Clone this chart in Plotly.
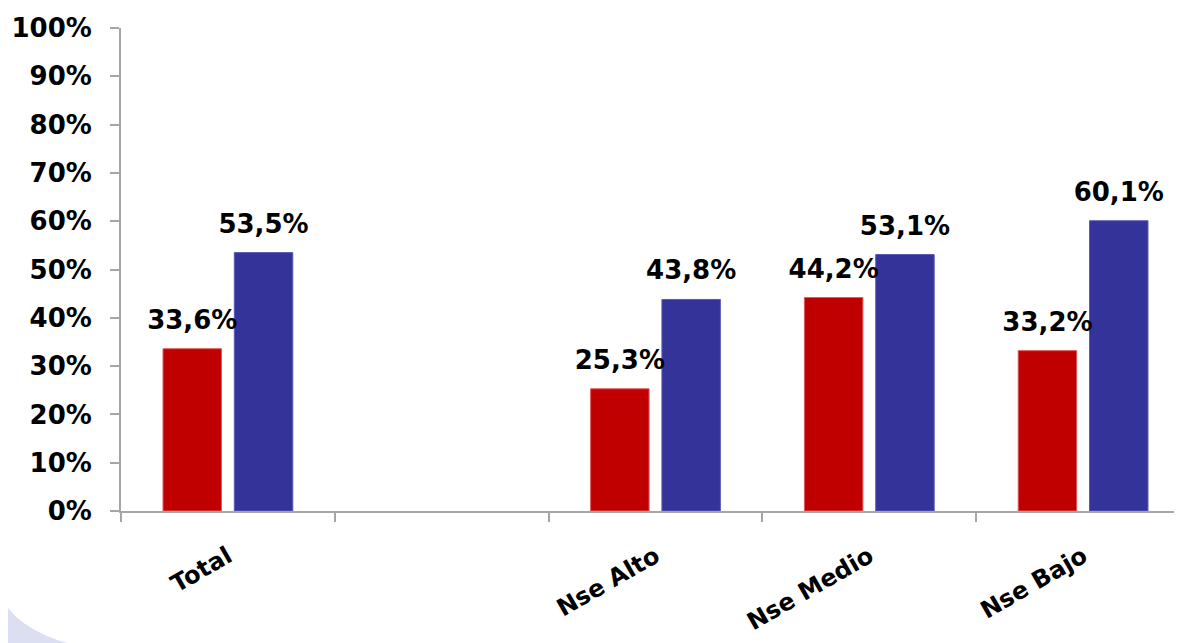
import plotly.graph_objects as go

categories = ["Total", " ", "Nse Alto", "Nse Medio", "Nse Bajo"]
serie_roja = [33.6, None, 25.3, 44.2, 33.2]
serie_azul = [53.5, None, 43.8, 53.1, 60.1]
y_ticks = list(range(0, 101, 10))
y_tick_labels = [f"{t}%" for t in y_ticks]

def fmt(vals):
    return ["" if v is None else f"{v:.1f}".replace(".", ",") + "%" for v in vals]

FONT = "DejaVu Sans"
AXIS_COLOR = "#a6a6a6"
W, H = 1182, 643
ML, MR, MT, MB = 113, 0, 20, 140

fig = go.Figure()
series = [
    (serie_roja, "#C00000", "#e05a5a", "Serie 1"),
    (serie_azul, "#333399", "#5a5ab8", "Serie 2"),
]
for vals, color, edge, name in series:
    fig.add_trace(go.Bar(
        x=categories, y=vals, name=name,
        marker=dict(color=color, line=dict(color=edge, width=1)),
    ))
# data labels, grouped like the bars
for vals, color, edge, name in series:
    fig.add_trace(go.Scatter(
        x=categories, y=vals, name=name + " etiquetas",
        mode="markers+text", text=fmt(vals), textposition="top center",
        marker=dict(size=20, opacity=0),
        textfont=dict(family=FONT, size=26, color="black", weight="bold"),
        cliponaxis=False, hoverinfo="skip",
    ))

# decorative faint swoosh in the lower-left corner (paper coordinates)
pw, ph = W - ML - MR, H - MT - MB
def px(x):
    return (x - ML) / pw
def py(y):
    return (H - MB - y) / ph
path = (f"M {px(0)},{py(600)} Q {px(25)},{py(632)} {px(95)},{py(643)} "
        f"L {px(0)},{py(643)} Z")
fig.add_shape(type="path", path=path, xref="paper", yref="paper",
              fillcolor="#dcdff1", line=dict(width=0), layer="below")

fig.update_layout(
    width=W, height=H,
    paper_bgcolor="white", plot_bgcolor="rgba(0,0,0,0)",
    margin=dict(l=ML, r=MR, t=MT, b=MB),
    barmode="group", bargap=0.333, bargroupgap=0.18,
    scattermode="group", scattergap=0.333,
    showlegend=False,
    font=dict(family=FONT, color="black"),
)
fig.update_xaxes(
    type="category", tickson="boundaries",
    showline=True, linecolor=AXIS_COLOR, linewidth=2,
    ticks="outside", ticklen=9, tickcolor=AXIS_COLOR, tickwidth=2,
    tickangle=-30, ticklabelstandoff=20,
    tickfont=dict(family=FONT, size=24, color="black", weight="bold"),
    showgrid=False, automargin=False,
)
fig.update_yaxes(
    range=[0, 100], tickvals=y_ticks, ticktext=y_tick_labels,
    showline=True, linecolor=AXIS_COLOR, linewidth=2,
    ticks="outside", ticklen=9, tickcolor=AXIS_COLOR, tickwidth=2,
    ticklabelstandoff=13,
    tickfont=dict(family=FONT, size=26, color="black", weight="bold"),
    showgrid=False, zeroline=False, automargin=False,
)

fig.write_html("out.html")
